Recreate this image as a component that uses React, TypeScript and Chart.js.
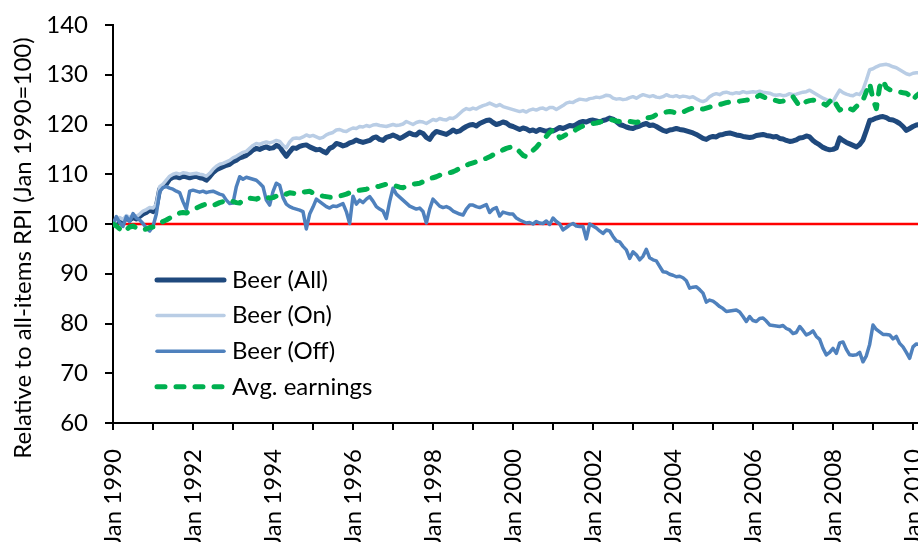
import React, { useEffect, useRef } from "react";
import { Chart, registerables } from "chart.js";

Chart.register(...registerables);

// ---------- data ----------
const START_YEAR = 1990; // first month is Jan 1990, monthly data
const tickYears = [1990, 1991, 1992, 1993, 1994, 1995, 1996, 1997, 1998, 1999, 2000, 2001, 2002, 2003, 2004, 2005, 2006, 2007, 2008, 2009, 2010];
const labeledYears = [1990, 1992, 1994, 1996, 1998, 2000, 2002, 2004, 2006, 2008, 2010];
const yTicks = [60, 70, 80, 90, 100, 110, 120, 130, 140];
const seriesNames = ["Beer (All)", "Beer (On)", "Beer (Off)", "Avg. earnings"];
const baseline = 100;
const yTitle = "Relative to all-items RPI (Jan 1990=100)";

const beerAll = [
  100.0, 100.3, 100.8, 100.5, 101.2, 100.8, 101.3, 101.0, 101.5, 102.0, 102.3, 102.8,
  102.5, 103.5, 107.0, 107.6, 108.0, 109.0, 109.4, 109.5, 109.3, 109.6, 109.5, 109.3,
  109.5, 109.6, 109.3, 109.2, 108.8, 109.5, 110.3, 110.9, 111.2, 111.5, 111.8, 112.0,
  112.5, 112.8, 113.3, 113.5, 113.8, 114.3, 114.9, 115.2, 115.0, 115.3, 115.5, 115.2,
  115.3, 115.8, 115.5, 114.5, 113.6, 114.5, 115.3, 115.2, 115.6, 115.8, 115.9, 115.5,
  115.2, 114.9, 115.0, 114.6, 114.3, 115.2, 115.5, 116.2, 116.0, 115.7, 115.9, 116.3,
  116.5, 116.9, 116.6, 116.4, 116.6, 116.8, 117.3, 117.5, 117.0, 116.8, 117.4, 117.6,
  117.9, 117.6, 117.2, 117.5, 117.9, 118.3, 118.0, 117.9, 118.5, 118.2, 117.4, 117.0,
  118.0, 118.6, 118.4, 118.2, 118.0, 118.4, 118.9, 118.5, 118.7, 119.2, 119.6, 119.9,
  120.0, 119.7, 120.2, 120.5, 120.8, 120.9, 120.4, 120.0, 120.2, 120.5, 120.3, 119.8,
  119.6, 119.3, 119.0, 119.3, 119.1, 118.7, 118.9, 118.6, 119.0, 118.8, 118.6, 118.9,
  118.7, 119.0, 119.4, 119.2, 119.5, 119.8, 119.7, 120.0, 120.4, 120.6, 120.5, 120.8,
  120.9, 120.7, 120.5, 120.8, 121.0, 121.3, 121.1, 120.6, 120.0, 119.8, 119.5, 119.3,
  119.2, 119.5, 119.7, 120.0, 120.2, 119.8, 119.9, 119.6, 119.2, 118.8, 118.6, 118.9,
  119.0, 119.2, 119.0, 118.9, 118.7, 118.5, 118.3, 118.0, 117.6, 117.2, 117.0, 117.4,
  117.6, 117.5, 117.9, 118.0, 118.2, 118.3, 118.1, 117.9, 117.8, 117.6, 117.5, 117.4,
  117.5, 117.8, 117.9, 118.0, 117.8, 117.7, 117.5, 117.6, 117.2, 117.1, 116.8, 116.6,
  116.7, 116.9, 117.3, 117.4, 117.7, 117.5, 116.8, 116.3, 115.9, 115.4, 115.1, 114.9,
  115.0, 115.3, 117.3, 116.8, 116.4, 116.1, 115.8, 115.5, 116.0, 116.9, 118.8, 120.8,
  121.0, 121.3, 121.5, 121.6, 121.4, 121.0, 120.9, 120.6, 120.2, 119.6, 118.8, 119.2,
  119.6, 119.9, 120.0,
];

const beerOn = [
  100.0, 100.8, 101.3, 100.9, 101.7, 101.3, 101.8, 101.5, 102.0, 102.6, 102.9, 103.3,
  103.2, 104.0, 107.5, 108.0, 108.8, 109.6, 110.0, 110.2, 110.0, 110.3, 110.2, 110.0,
  110.1, 110.2, 110.0, 109.9, 109.6, 110.2, 111.0, 111.6, 112.0, 112.2, 112.5, 112.8,
  113.3, 113.6, 114.0, 114.4, 114.6, 115.2, 115.8, 116.2, 116.0, 116.3, 116.5, 116.3,
  116.5, 116.8, 116.6, 115.8, 115.3, 116.5, 117.2, 117.3, 117.2, 117.5, 117.9, 117.6,
  117.8, 117.5, 117.2, 117.4, 117.9, 118.2, 118.4, 118.9, 119.0, 118.7, 118.6, 119.0,
  119.3, 119.2, 119.6, 119.5, 119.8, 119.6, 119.9, 120.0, 119.8, 119.7, 119.6, 119.8,
  120.0, 119.8, 119.9, 120.1, 120.6, 120.3, 120.0, 120.4, 120.6, 120.5, 120.2, 120.6,
  121.0, 120.8, 121.2, 121.0, 120.9, 121.3, 121.2, 121.6, 122.2, 122.8, 123.2, 123.0,
  123.3, 123.1, 123.5, 123.8, 124.0, 124.3, 124.0, 123.7, 124.0, 123.6, 123.4, 123.2,
  123.0, 122.8, 122.6, 122.8, 122.5, 122.9, 123.1, 122.9, 123.2, 123.3, 123.0, 123.4,
  123.4, 123.0, 123.4, 123.8, 124.3, 124.5, 124.4, 124.8, 125.1, 125.0, 124.9, 125.2,
  125.3, 125.5, 125.4, 125.6, 125.9, 125.8, 125.3, 125.1, 125.2, 125.0, 125.1, 125.4,
  125.6, 125.3, 125.7, 126.0, 125.8, 125.6, 125.8, 125.5, 125.4, 125.6, 126.0, 125.7,
  125.6, 125.8, 125.5, 125.7, 125.6, 125.4, 125.6, 125.2, 124.8, 124.6, 124.9, 125.6,
  126.0, 126.2, 126.0, 126.4, 126.5, 126.3, 126.2, 126.4, 126.3, 126.6, 126.4, 126.5,
  126.6, 126.5, 126.7, 126.5, 126.4, 126.3, 126.0, 125.9, 126.0, 125.8, 125.9, 126.2,
  126.0, 126.1, 126.3, 126.5, 126.6, 126.9, 126.5, 126.1, 125.7, 125.3, 125.0, 124.8,
  124.6, 125.8, 126.9, 126.4, 126.1, 125.9, 125.8, 126.2, 126.0, 127.0, 128.9, 131.0,
  131.2, 131.6, 131.9, 132.0, 132.1, 131.9, 131.6, 131.4, 131.0, 130.6, 130.2, 130.0,
  130.3, 130.4, 130.4,
];

const beerOff = [
  100.0, 101.5, 100.3, 99.5, 101.5, 100.5, 102.1, 101.2, 100.8, 100.1, 99.2, 98.6,
  99.5, 102.0, 106.5, 107.3, 107.5, 107.2, 107.0, 106.6, 106.3, 104.5, 103.0, 106.6,
  106.8, 106.6, 106.4, 106.6, 106.3, 106.5, 106.6, 106.3, 106.0, 105.8, 104.8, 104.1,
  104.2, 107.5, 109.5, 109.0, 109.4, 109.2, 109.0, 108.8, 108.2, 107.5, 104.8, 103.8,
  106.5, 108.2, 107.8, 105.3, 104.0, 103.5, 103.2, 103.0, 102.8, 102.5, 99.0, 102.0,
  103.4, 105.0, 104.5, 104.0, 103.5, 103.2, 103.6, 103.5, 103.8, 104.1, 102.5, 100.1,
  105.6, 104.0, 104.8, 104.3, 105.0, 105.5, 104.6, 103.5, 103.0, 102.6, 101.1, 104.5,
  107.2, 106.0, 105.4, 104.8, 104.2, 103.6, 103.3, 103.0, 103.2, 102.5, 100.2, 103.0,
  105.0, 104.3, 103.6, 103.3, 103.5, 103.2, 102.6, 102.3, 102.0, 101.8, 103.0, 103.8,
  103.8, 103.5, 103.3, 103.6, 103.9, 102.3, 103.0, 103.3, 101.6, 102.4, 102.2, 102.0,
  102.0, 101.2, 100.8, 100.5, 100.2, 100.3, 100.0, 100.5, 100.2, 100.1, 100.6, 99.9,
  101.2, 100.5, 100.0, 98.8, 99.3, 99.8, 100.1, 99.6, 99.5, 99.5, 97.0, 100.0,
  99.6, 99.2, 98.6, 98.1, 98.8, 98.6, 97.5, 96.6, 96.4, 95.5, 94.8, 93.1,
  94.4, 93.8, 92.8, 93.5, 94.9, 93.2, 92.8, 92.6, 91.5, 90.4, 90.3, 89.9,
  89.7, 89.4, 89.5, 89.2, 88.6, 87.1, 87.3, 87.4, 86.8, 86.1, 84.3, 84.7,
  84.5, 84.0, 83.4, 83.0, 82.4, 82.5, 82.6, 82.7, 82.3, 81.4, 80.4, 81.4,
  80.6, 80.4, 81.0, 81.1, 80.5, 79.7, 79.6, 79.5, 79.4, 79.6, 79.0, 78.7,
  78.0, 78.2, 79.4, 78.6, 77.7, 78.0, 78.5, 77.4, 76.8, 75.0, 73.7, 74.2,
  75.0, 74.0, 76.1, 76.3, 74.8, 73.7, 73.6, 73.7, 74.2, 72.3, 73.5, 75.8,
  79.7, 78.8, 78.3, 77.8, 77.8, 77.7, 76.9, 77.4, 76.0, 75.3, 74.2, 73.0,
  75.3, 75.9, 75.8,
];

const avgEarnings = [
  100.0, 99.6, 99.0, 98.4, 98.8, 99.4, 99.6, 99.2, 98.9, 98.8, 99.0, 99.3,
  99.4, 99.8, 100.1, 100.5, 100.8, 101.2, 101.5, 101.8, 102.2, 102.3, 102.2, 102.6,
  103.0, 103.2, 103.5, 103.8, 104.0, 103.8, 103.7, 104.0, 104.3, 104.5, 104.8, 104.6,
  104.5, 104.3, 104.2, 104.8, 105.0, 105.2, 105.1, 105.0, 105.3, 105.6, 105.4, 105.2,
  105.3, 105.6, 105.9, 106.2, 106.0, 106.3, 106.2, 106.0, 106.2, 106.4, 106.5, 106.6,
  106.2, 106.0, 105.8, 105.6, 105.5, 105.4, 105.4, 105.5, 105.6, 105.8, 106.0, 106.3,
  106.5, 106.6, 106.8, 106.9, 107.0, 107.2, 107.3, 107.5, 107.6, 107.8, 108.0, 108.0,
  107.8, 107.6, 107.4, 107.3, 107.6, 107.8, 108.0, 108.1, 108.2, 108.5, 108.8, 109.1,
  109.3, 109.5, 109.8, 110.0, 110.2, 110.3, 110.5, 110.8, 111.2, 111.5, 111.8, 112.1,
  112.3, 112.5, 112.8, 113.0, 113.2, 113.5, 113.9, 114.2, 114.5, 114.9, 115.2, 115.4,
  115.6, 115.2, 114.5, 113.8, 113.5, 114.0, 114.8, 115.4, 116.2, 117.0, 117.6, 118.4,
  118.9, 118.6, 117.3, 117.6, 118.0, 118.4, 118.6, 119.0, 119.4, 119.7, 119.9, 120.1,
  120.2, 120.3, 120.5, 120.6, 120.8, 121.0, 120.9, 120.7, 120.6, 120.5, 120.4, 120.6,
  120.5, 120.4, 120.6, 121.0, 121.3, 121.4, 121.6, 122.0, 122.2, 122.4, 122.5, 122.6,
  122.5, 122.3, 122.2, 122.5, 122.8, 123.1, 123.3, 123.4, 123.2, 123.1, 123.3, 123.5,
  123.7, 123.8, 124.0, 124.2, 124.4, 124.5, 124.5, 124.6, 124.7, 124.8, 124.9, 125.0,
  125.2, 125.5, 125.9, 125.6, 125.3, 125.1, 125.0, 124.8, 124.6, 124.7, 125.0, 125.3,
  125.6, 124.6, 123.7, 124.2, 124.6, 124.8, 124.9, 124.8, 124.5, 124.2, 123.9, 124.6,
  125.3, 124.0, 122.9, 123.3, 123.5, 123.2, 122.9, 123.6, 124.3, 124.9, 126.6, 128.3,
  125.0, 123.2, 127.6, 128.9, 127.4, 127.0, 126.8, 126.6, 126.5, 126.4, 126.3, 125.8,
  124.9, 125.8, 126.3,
];

// ---------- styling ----------
const FONT = "Lato, 'Liberation Sans', sans-serif";
const FONT_SIZE = 24;
const CANVAS_W = 930;
const CANVAS_H = 542;
const PLOT_LEFT = 113;
const PLOT_TOP = 25;
const PLOT_BOTTOM = 423;
const PX_PER_YEAR = 40;
const X_MAX = START_YEAR + (CANVAS_W - PLOT_LEFT) / PX_PER_YEAR;

const toPoints = (arr: number[]) => arr.map((v, i) => ({ x: START_YEAR + i / 12, y: v }));

const styles = [
  { color: "#1F497D", width: 5, dash: [] as number[], order: 4 },
  { color: "#B9CDE5", width: 3.5, dash: [] as number[], order: 3 },
  { color: "#4F81BD", width: 3.5, dash: [] as number[], order: 2 },
  { color: "#00B050", width: 5, dash: [8, 11], order: 1 },
];

const refLinePlugin = {
  id: "refLine",
  beforeDatasetsDraw(chart: any) {
    const { ctx, chartArea, scales } = chart;
    const y = scales.y.getPixelForValue(baseline);
    ctx.save();
    ctx.strokeStyle = "#FF0000";
    ctx.lineWidth = 2.5;
    ctx.beginPath();
    ctx.moveTo(chartArea.left, y);
    ctx.lineTo(chartArea.right, y);
    ctx.stroke();
    ctx.restore();
  },
};

const legendAndTitlePlugin = {
  id: "customLegend",
  afterDraw(chart: any) {
    const { ctx } = chart;
    ctx.save();
    // y-axis title
    ctx.fillStyle = "#000";
    ctx.font = `${FONT_SIZE}px ${FONT}`;
    ctx.textAlign = "center";
    ctx.textBaseline = "middle";
    ctx.translate(23, 248);
    ctx.rotate(-Math.PI / 2);
    ctx.fillText(yTitle, 0, 0);
    ctx.restore();

    // legend
    ctx.save();
    chart.data.datasets.forEach((ds: any, i: number) => {
      const y = 280 + i * 35.6;
      ctx.strokeStyle = ds.borderColor;
      ctx.lineWidth = ds.borderWidth;
      ctx.lineCap = "round";
      ctx.setLineDash(ds.borderDash || []);
      ctx.beginPath();
      ctx.moveTo(157, y);
      ctx.lineTo(224, y);
      ctx.stroke();
      ctx.setLineDash([]);
      ctx.fillStyle = "#000";
      ctx.font = `${FONT_SIZE}px ${FONT}`;
      ctx.textAlign = "left";
      ctx.textBaseline = "middle";
      ctx.fillText(ds.label, 232, y);
    });
    ctx.restore();
  },
};

const zeroPadding = (scale: any) => {
  scale.paddingLeft = 0;
  scale.paddingRight = 0;
  scale.paddingTop = 0;
  scale.paddingBottom = 0;
};

export default function App() {
  const ref = useRef<HTMLCanvasElement | null>(null);

  useEffect(() => {
    if (!ref.current) return;
    const seriesData = [beerAll, beerOn, beerOff, avgEarnings];
    const chart = new Chart(ref.current, {
      type: "line",
      data: {
        datasets: seriesData.map((arr, i) => ({
          label: seriesNames[i],
          data: toPoints(arr),
          borderColor: styles[i].color,
          backgroundColor: styles[i].color,
          borderWidth: styles[i].width,
          borderDash: styles[i].dash,
          borderCapStyle: i === 3 ? "round" : "butt",
          borderJoinStyle: "round",
          pointRadius: 0,
          tension: 0,
          order: styles[i].order,
        })),
      },
      options: {
        responsive: false,
        animation: false,
        events: [],
        layout: { padding: { left: 0, right: 0, top: PLOT_TOP, bottom: 0 } },
        plugins: {
          legend: { display: false },
          tooltip: { enabled: false },
          title: { display: false },
        },
        scales: {
          x: {
            type: "linear",
            min: START_YEAR,
            max: X_MAX,
            afterBuildTicks: (scale: any) => {
              scale.ticks = tickYears.map((v) => ({ value: v }));
            },
            afterFit: (scale: any) => {
              scale.height = CANVAS_H - PLOT_BOTTOM;
              zeroPadding(scale);
            },
            grid: {
              drawOnChartArea: false,
              drawTicks: true,
              tickLength: 7,
              color: "#000",
              lineWidth: 2,
            },
            border: { display: true, color: "#000", width: 2 },
            ticks: {
              autoSkip: false,
              minRotation: 90,
              maxRotation: 90,
              padding: 19,
              color: "#000",
              font: { family: FONT, size: FONT_SIZE },
              callback: (v: any) => (labeledYears.includes(Number(v)) ? `Jan ${v}` : ""),
            },
          },
          y: {
            min: 60,
            max: 140,
            afterBuildTicks: (scale: any) => {
              scale.ticks = yTicks.map((v) => ({ value: v }));
            },
            afterFit: (scale: any) => {
              scale.width = PLOT_LEFT;
              zeroPadding(scale);
            },
            grid: {
              drawOnChartArea: false,
              drawTicks: true,
              tickLength: 8,
              color: "#000",
              lineWidth: 2,
            },
            border: { display: true, color: "#000", width: 2 },
            ticks: {
              padding: 17,
              color: "#000",
              font: { family: FONT, size: FONT_SIZE },
            },
          },
        },
      },
      plugins: [refLinePlugin, legendAndTitlePlugin],
    });
    return () => chart.destroy();
  }, []);

  return (
    <div
      style={{
        position: "absolute",
        left: 0,
        top: 0,
        width: 918,
        height: 542,
        overflow: "hidden",
        background: "#fff",
      }}
    >
      <canvas ref={ref} width={CANVAS_W} height={CANVAS_H} style={{ display: "block" }} />
    </div>
  );
}
